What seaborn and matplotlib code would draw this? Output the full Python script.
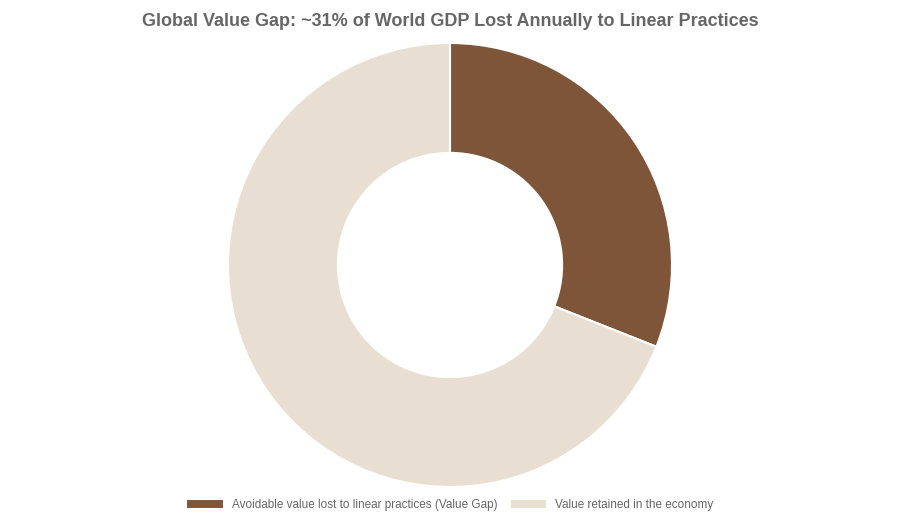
import matplotlib
matplotlib.use("Agg")
import matplotlib.pyplot as plt
import seaborn as sns

# data
labels = ["Avoidable value lost to linear practices (Value Gap)",
          "Value retained in the economy"]
shares = [31, 69]
colors = ["#7F5539", "#E8DFD2"]
title = "Global Value Gap: ~31% of World GDP Lost Annually to Linear Practices"

sns.set_theme(style="white")
plt.rcParams["font.family"] = ["Liberation Sans", "DejaVu Sans"]

fig = plt.figure(figsize=(9, 5.2), dpi=100)
ax = fig.add_axes([228 / 900, 33 / 520, 444 / 900, 444 / 520])

wedges, _ = ax.pie(shares, colors=colors, startangle=90, counterclock=False,
                   radius=1.0,
                   wedgeprops=dict(width=0.495, edgecolor="white", linewidth=1.5))
ax.set_xlim(-1, 1)
ax.set_ylim(-1, 1)
ax.set_aspect("equal")
ax.axis("off")

fig.text(0.5, 1 - 22 / 520, title, ha="center", va="center",
         fontsize=13, fontweight="bold", color="#666666")

fig.legend(wedges, labels, loc="center", bbox_to_anchor=(0.5, 1 - 505 / 520),
           ncol=2, frameon=False, fontsize=8.5, labelcolor="#666666",
           handlelength=3.2, handleheight=0.85, handletextpad=0.68,
           columnspacing=1.0)

fig.savefig("out.png", dpi=100)
